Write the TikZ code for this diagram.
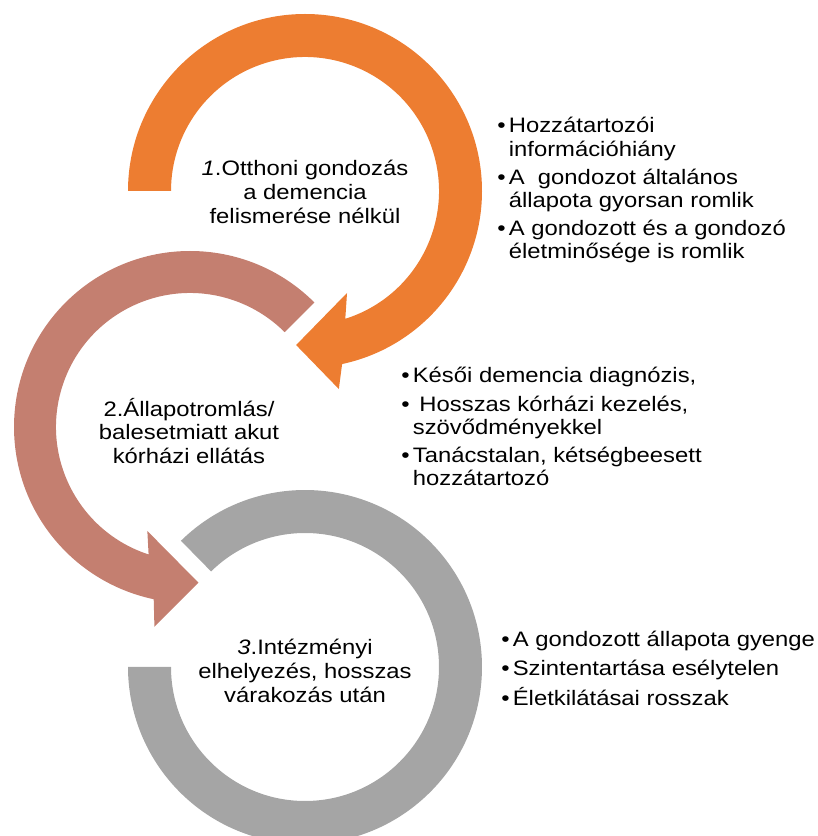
\documentclass[tikz,border=0pt]{standalone}
\usepackage{fontspec}
\setmainfont{Liberation Sans}[FakeStretch=1.14]
\definecolor{ringorange}{HTML}{ED7D31}
\definecolor{ringbrown}{HTML}{C47F70}
\definecolor{ringgray}{HTML}{A5A5A5}
\begin{document}
\begin{tikzpicture}[x=0.02cm, y=0.02cm,
  ringtext/.style={align=center, inner sep=0pt, font=\fontsize{11.9pt}{13.5pt}\selectfont},
  bulletlist/.style={anchor=base west, inner sep=0pt, font=\fontsize{11.9pt}{13.2pt}\selectfont}]
\clip (0,0) rectangle (818,836);
\coordinate (c1) at (305,645);
\coordinate (c2) at (190,409);
\coordinate (c3) at (305,169);
% the three circular arrows
\fill[ringorange, shift={(c1)}] (180:134) -- (180:177) arc[start angle=180, end angle=-77.9, radius=177]
  -- (-80.3:200.9) -- (-93.3:154.3) -- (-67.6:110.3) -- (-72.5:134) arc[start angle=-72.5, end angle=180, radius=134] -- cycle;
\fill[ringbrown, shift={(c2)}] (45:134) -- (45:176) arc[start angle=45, end angle=258.1, radius=176]
  -- (259.9:202.9) -- (273.1:155.9) -- (247.7:112.4) -- (252:134) arc[start angle=252, end angle=45, radius=134] -- cycle;
\fill[ringgray, shift={(c3)}] (134.5:134) -- (134.5:177) arc[start angle=134.5, end angle=-180, radius=177]
  -- (180:134) arc[start angle=-180, end angle=134.5, radius=134] -- cycle;
% texts in the rings
\node[ringtext] (s1) at (305,644) {\textit{1}.Otthoni gondozás\\a demencia\\felismerése nélkül};
\node[ringtext] (s2) at (189,405) {2.Állapotromlás/\\balesetmiatt akut\\kórházi ellátás};
\node[ringtext] (s3) at (305,165) {\textit{3}.Intézményi\\elhelyezés, hosszas\\várakozás után};
% bullet lists
\node[bulletlist] (b1) at (497,703) {\begin{tabular}[t]{@{}l@{\hspace{1.8pt}}l@{}}
  • & Hozzátartozói\\ & információhiány\\[2.8pt]
  • & A~ gondozot általános\\ & állapota gyorsan romlik\\[2.8pt]
  • & A gondozott és a gondozó\\ & életminősége is romlik
  \end{tabular}};
\node[bulletlist] (b2) at (401,453) {\begin{tabular}[t]{@{}l@{\hspace{1.8pt}}l@{}}
  • & Késői demencia diagnózis,\\[2.8pt]
  • & \ Hosszas kórházi kezelés,\\ & szövődményekkel\\[2.8pt]
  • & Tanácstalan, kétségbeesett\\ & hozzátartozó
  \end{tabular}};
\node[bulletlist] (b3) at (501,189) {\begin{tabular}[t]{@{}l@{\hspace{1.8pt}}l@{}}
  • & A gondozott állapota gyenge\\[2.8pt]
  • & Szintentartása esélytelen\\[2.8pt]
  • & Életkilátásai rosszak
  \end{tabular}};
\end{tikzpicture}
\end{document}
